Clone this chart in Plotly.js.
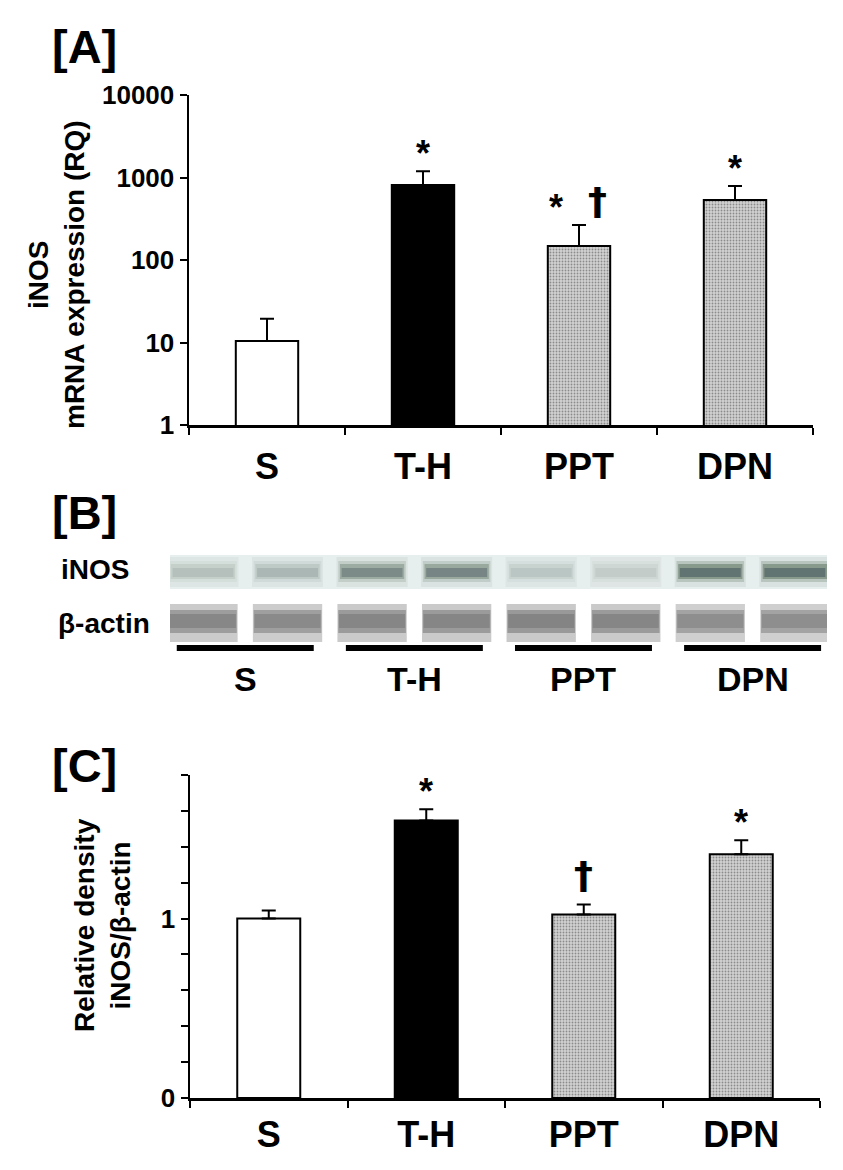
<!DOCTYPE html>
<html><head><meta charset="utf-8">
<script src="https://cdn.plot.ly/plotly-3.0.1.min.js"></script>
<style>html,body{margin:0;padding:0;background:#fff;}#chart{width:843px;height:1170px;}</style>
</head><body><div id="chart"></div>
<script>
// ---------- data ----------
const groups = ['S', 'T-H', 'PPT', 'DPN'];
// Panel A: iNOS mRNA expression (RQ), log scale
const mrnaRQ = [10.4, 810, 148, 535];
const mrnaErr = [9, 380, 118, 255];
const mrnaStar = [false, true, true, true];     // * vs S
const mrnaDagger = [false, false, true, false]; // dagger vs T-H
const logTickVals = [1, 10, 100, 1000, 10000];
const logTickText = ['1', '10', '100', '1000', '10000'];
// Panel C: relative density iNOS/beta-actin
const densityRatio = [1.0, 1.547, 1.022, 1.358];
const densityErr = [0.045, 0.062, 0.056, 0.078];
const densityStar = [false, true, false, true];
const densityDagger = [false, false, true, false];
const densTickVals = [0, 0.2, 0.4, 0.6, 0.8, 1.0, 1.2, 1.4, 1.6, 1.8];
const densTickText = ['0', '', '', '', '', '1', '', '', '', ''];
// Panel B: western blot band intensities (0-1), two lanes per group
const blotLaneGroup = ['S', 'S', 'T-H', 'T-H', 'PPT', 'PPT', 'DPN', 'DPN'];
const inosBand = [0.22, 0.28, 0.62, 0.66, 0.18, 0.14, 0.85, 0.85];
const actinBand = [0.78, 0.76, 0.8, 0.8, 0.82, 0.8, 0.72, 0.72];

// ---------- styles ----------
const W = 843, H = 1170;
const px = x => x / W;
const py = y => 1 - y / H;
const FONT = 'Liberation Sans, Arial, sans-serif';
const DAGGER_FONT = 'DejaVu Sans, Liberation Sans, sans-serif';
const barColors = ['#ffffff', '#000000', '#d2d2d2', '#d2d2d2'];
const barPatterns = ['', '', '.', '.'];

function barTrace(vals, errs, xa, ya) {
  return {
    type: 'bar', x: groups, y: vals, xaxis: xa, yaxis: ya, width: 0.4,
    marker: {
      color: barColors, line: {color: '#000', width: 2},
      pattern: {shape: barPatterns, fillmode: 'overlay', fgcolor: '#a6a6a6', size: 3, solidity: 0.3}
    },
    error_y: {type: 'data', symmetric: false, array: errs, arrayminus: errs.map(() => 0),
      color: '#000', thickness: 2, width: 7},
    hoverinfo: 'skip', showlegend: false
  };
}

const traces = [
  barTrace(mrnaRQ, mrnaErr, 'x', 'y'),
  barTrace(densityRatio, densityErr, 'x2', 'y2')
];

const axisCommon = {
  showline: true, linecolor: '#000', linewidth: 2.5, ticks: 'outside', ticklen: 7,
  tickwidth: 2, tickcolor: '#000', showgrid: false, zeroline: false, fixedrange: true
};

const annotations = [];
// panel letters
[['[A]', 47], ['[B]', 512], ['[C]', 765]].forEach(([t, y]) => annotations.push({
  text: '<b>' + t + '</b>', xref: 'paper', yref: 'paper', x: px(50), y: py(y),
  xanchor: 'left', yanchor: 'middle', showarrow: false, font: {family: FONT, size: 47, color: '#000'}
}));
// y titles
annotations.push({
  text: '<b>iNOS<br>mRNA expression (RQ)</b>', textangle: -90, xref: 'paper', yref: 'paper',
  x: px(56), y: py(275), xanchor: 'center', yanchor: 'middle', showarrow: false,
  font: {family: FONT, size: 28, color: '#000'}
});
annotations.push({
  text: '<b>Relative density<br>iNOS/\u03b2-actin</b>', textangle: -90, xref: 'paper', yref: 'paper',
  x: px(102), y: py(925), xanchor: 'center', yanchor: 'middle', showarrow: false,
  font: {family: FONT, size: 28, color: '#000'}
});
// significance marks
function addMarks(stars, daggers, vals, errs, xa, ya, isLog, daggerShift) {
  groups.forEach((g, i) => {
    const top = vals[i] + errs[i];
    const yv = isLog ? Math.log10(top) : top;
    const both = stars[i] && daggers[i];
    if (stars[i]) annotations.push({
      text: '<b>*</b>', x: g, y: yv, xref: xa, yref: ya, xanchor: 'center', yanchor: 'bottom',
      xshift: both ? -23 : 0, yshift: -5, showarrow: false,
      font: {family: FONT, size: 36, color: '#000'}
    });
    if (daggers[i]) annotations.push({
      text: '<b>\u2020</b>', x: g, y: yv, xref: xa, yref: ya, xanchor: 'center', yanchor: 'bottom',
      xshift: both ? 18 : 0, yshift: daggerShift, showarrow: false,
      font: {family: DAGGER_FONT, size: 38, color: '#000'}
    });
  });
}
addMarks(mrnaStar, mrnaDagger, mrnaRQ, mrnaErr, 'x', 'y', true, 0);
addMarks(densityStar, densityDagger, densityRatio, densityErr, 'x2', 'y2', false, 6);

// blot row labels
annotations.push({text: '<b>iNOS</b>', xref: 'paper', yref: 'paper', x: px(59), y: py(569),
  xanchor: 'left', yanchor: 'middle', showarrow: false, font: {family: FONT, size: 28, color: '#000'}});
annotations.push({text: '<b>\u03b2-actin</b>', xref: 'paper', yref: 'paper', x: px(56), y: py(623),
  xanchor: 'left', yanchor: 'middle', showarrow: false, font: {family: FONT, size: 28, color: '#000'}});

// blot shapes
const shapes = [];
const nLanes = inosBand.length;
shapes.push({type: 'rect', xref: 'x3', yref: 'y3', x0: 0.61, x1: nLanes + 0.38, y0: 555, y1: 589,
  fillcolor: '#e6eeee', line: {width: 0}, layer: 'below'});
for (let i = 0; i < nLanes; i++) {
  const c = i + 1;
  const a = inosBand[i];
  shapes.push({type: 'rect', xref: 'x3', yref: 'y3', x0: c - 0.42, x1: c + 0.42, y0: 557, y1: 587,
    fillcolor: 'rgba(200,210,205,' + (0.25 + a * 0.2).toFixed(3) + ')', line: {width: 0}});
  shapes.push({type: 'rect', xref: 'x3', yref: 'y3', x0: c - 0.4, x1: c + 0.4, y0: 561, y1: 582,
    fillcolor: 'rgba(90,115,95,' + (a * 0.3).toFixed(3) + ')', line: {width: 0}});
  shapes.push({type: 'rect', xref: 'x3', yref: 'y3', x0: c - 0.38, x1: c + 0.38, y0: 564, y1: 579,
    fillcolor: 'rgba(60,85,60,' + (a * 0.45).toFixed(3) + ')', line: {width: 0}});
  shapes.push({type: 'rect', xref: 'x3', yref: 'y3', x0: c - 0.36, x1: c + 0.36, y0: 568, y1: 577,
    fillcolor: 'rgba(40,55,70,' + (a * 0.45).toFixed(3) + ')', line: {width: 0}});
  const b = actinBand[i];
  shapes.push({type: 'rect', xref: 'x3', yref: 'y3', x0: c - 0.41, x1: c + 0.41, y0: 604, y1: 642,
    fillcolor: 'rgba(160,160,160,' + (b * 0.7).toFixed(3) + ')', line: {width: 0}});
  shapes.push({type: 'rect', xref: 'x3', yref: 'y3', x0: c - 0.4, x1: c + 0.4, y0: 610, y1: 633,
    fillcolor: 'rgba(105,105,105,' + (b * 0.6).toFixed(3) + ')', line: {width: 0}});
  shapes.push({type: 'rect', xref: 'x3', yref: 'y3', x0: c - 0.39, x1: c + 0.39, y0: 614, y1: 628,
    fillcolor: 'rgba(90,90,90,' + (b * 0.4).toFixed(3) + ')', line: {width: 0}});
}
// group underlines and labels
groups.forEach((g, k) => {
  const lanesIdx = blotLaneGroup.map((lg, i) => lg === g ? i + 1 : null).filter(v => v !== null);
  const lo = Math.min(...lanesIdx), hi = Math.max(...lanesIdx);
  shapes.push({type: 'line', xref: 'x3', yref: 'y3', x0: lo - 0.31, x1: hi + 0.31, y0: 648, y1: 648,
    line: {color: '#000', width: 6}});
  annotations.push({text: '<b>' + g + '</b>', xref: 'x3', yref: 'y3', x: (lo + hi) / 2, y: 679,
    xanchor: 'center', yanchor: 'middle', showarrow: false, font: {family: FONT, size: 34, color: '#000'}});
});

const layout = {
  width: W, height: H, margin: {l: 0, r: 0, t: 0, b: 0},
  paper_bgcolor: '#fff', plot_bgcolor: 'rgba(0,0,0,0)', showlegend: false,
  font: {family: FONT, color: '#000'},
  bargap: 0.6,
  xaxis: Object.assign({}, axisCommon, {domain: [px(189), px(813)], anchor: 'y', type: 'category',
    range: [-0.5, 3.5], tickson: 'boundaries', ticklabelstandoff: 8,
    tickfont: {family: FONT, size: 36, weight: 'bold'}}),
  yaxis: Object.assign({}, axisCommon, {domain: [py(425), py(95)], anchor: 'x', type: 'log',
    range: [0, 4], tickvals: logTickVals, ticktext: logTickText,
    tickfont: {family: FONT, size: 26, weight: 'bold'}}),
  xaxis2: Object.assign({}, axisCommon, {domain: [px(190), px(820)], anchor: 'y2', type: 'category',
    range: [-0.5, 3.5], tickson: 'boundaries', ticklabelstandoff: 3,
    tickfont: {family: FONT, size: 36, weight: 'bold'}}),
  yaxis2: Object.assign({}, axisCommon, {domain: [py(1098), py(775)], anchor: 'x2',
    range: [0, 1.8], tickvals: densTickVals, ticktext: densTickText,
    tickfont: {family: FONT, size: 26, weight: 'bold'}}),
  xaxis3: {domain: [px(170), px(827)], anchor: 'y3', range: [0.61, 8.38], visible: false, fixedrange: true},
  yaxis3: {domain: [py(690), py(545)], anchor: 'x3', range: [690, 545], visible: false, fixedrange: true},
  shapes: shapes,
  annotations: annotations
};

Plotly.newPlot('chart', traces, layout, {staticPlot: true, displayModeBar: false});
</script>
</body></html>
